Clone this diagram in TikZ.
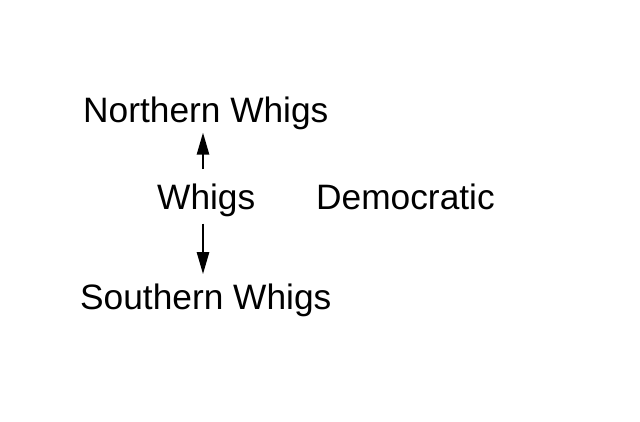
\documentclass[tikz,border=0pt]{standalone}
\usepackage{fontspec}
\setmainfont{Liberation Sans}
\usetikzlibrary{arrows.meta}
\begin{document}
\begin{tikzpicture}[x=1pt,y=1pt,
  lbl/.style={anchor=base west,inner sep=0pt,font=\fontsize{35.3}{40}\selectfont},
  arr/.style={line width=2.4pt,-{Triangle[length=22pt,width=12pt]}}]
\useasboundingbox[fill=white] (0,0) rectangle (640,422);
\node[lbl] (n) at (83,299) {Northern Whigs};
\node[lbl] (w) at (157,212) {Whigs};
\node[lbl] (d) at (316,212) {Democratic};
\node[lbl] (s) at (80,112) {Southern Whigs};
\draw[arr,shorten <=15pt,shorten >=2pt] (w.north -| 203,0) -- (n.south -| 203,0);
\draw[arr,shorten <=6pt,shorten >=10pt] (w.south -| 203,0) -- (s.north -| 203,0);
\end{tikzpicture}
\end{document}
